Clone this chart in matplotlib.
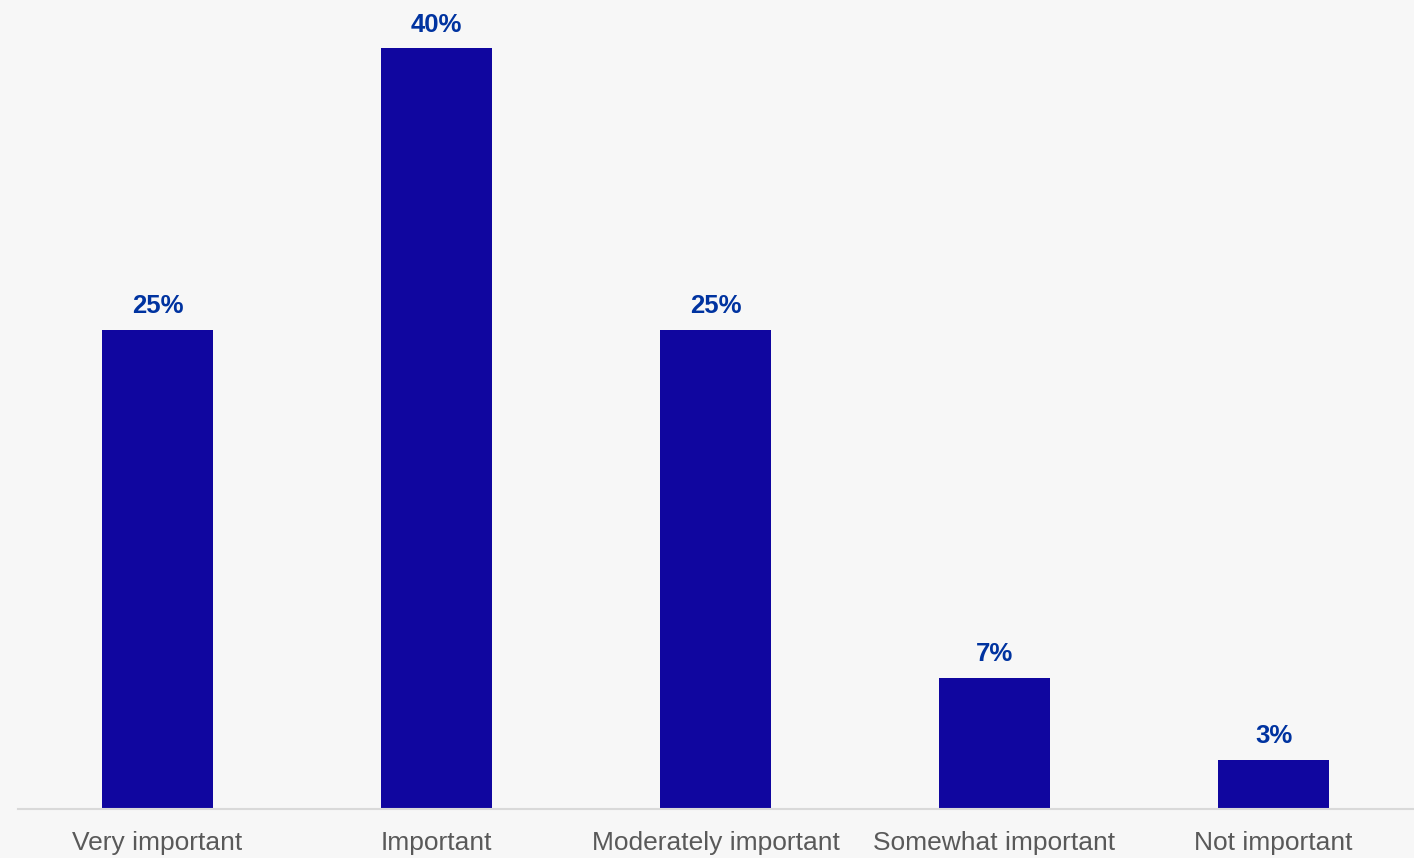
import numpy as np
import matplotlib.pyplot as plt

categories = ["Very important", "Important", "Moderately important",
              "Somewhat important", "Not important"]
values = [25.2, 40.0, 25.2, 6.9, 2.6]
labels = ["25%", "40%", "25%", "7%", "3%"]

plt.rcParams['font.family'] = ['Liberation Sans', 'DejaVu Sans']

fig = plt.figure(figsize=(14.14, 8.58), dpi=100)
fig.patch.set_facecolor('#f7f7f7')
ax = fig.add_axes([18/1414, 1 - 809/858, 1395/1414, 799/858])
ax.set_facecolor('#f7f7f7')

x = np.arange(len(categories))
bars = ax.bar(x, values, width=0.4, color='#10069f')
for b, lab in zip(bars, labels):
    ax.text(b.get_x() + b.get_width()/2, b.get_height() + 0.6, lab,
            ha='center', va='bottom', fontsize=18.5, fontweight='bold',
            color='#0033a0')

ax.set_xlim(-0.5, len(categories) - 0.5)
ax.set_ylim(0, 40 * 799 / 761)
ax.set_xticks(x)
ax.set_xticklabels(categories, fontsize=19, color='#595959')
ax.tick_params(axis='x', length=0, pad=16)
ax.set_yticks([])
for s in ['top', 'right', 'left']:
    ax.spines[s].set_visible(False)
ax.spines['bottom'].set_color('#d9d9d9')
ax.spines['bottom'].set_linewidth(1.5)

fig.savefig('out.png', dpi=100, facecolor=fig.get_facecolor())
